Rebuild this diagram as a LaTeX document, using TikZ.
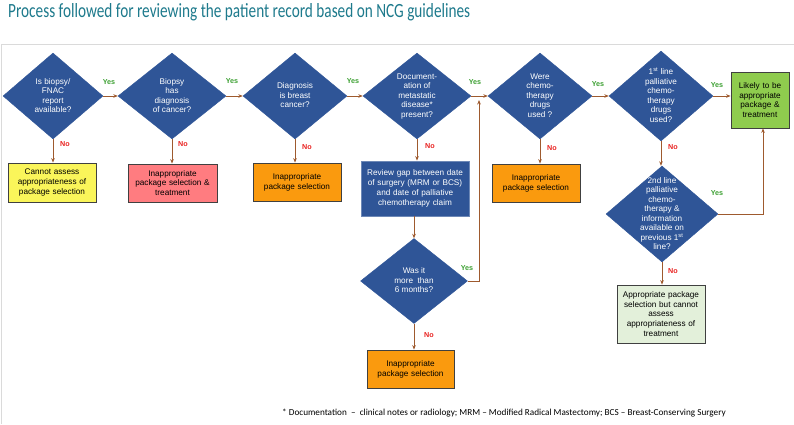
\documentclass[tikz,border=0pt]{standalone}
\usepackage{fontspec}
\setmainfont{Liberation Sans}
\newfontfamily\calibri{Carlito}
\usetikzlibrary{shapes.geometric,arrows.meta}
\definecolor{dblue}{HTML}{2F5597}
\definecolor{titlecol}{HTML}{1E7A8C}
\definecolor{arrcol}{HTML}{9E5A2E}
\definecolor{yescol}{HTML}{3DA033}
\definecolor{nocol}{HTML}{E8201E}
\definecolor{yellowbox}{HTML}{FAF55A}
\definecolor{redbox}{HTML}{FF7C80}
\definecolor{orangebox}{HTML}{FA9A0E}
\definecolor{greenbox}{HTML}{8FCC4E}
\definecolor{palegreen}{HTML}{E3F0DA}
\definecolor{framecol}{HTML}{DADADA}
\newcommand{\dtxt}[1]{\smash{\raisebox{-2.4pt}{\makebox[0pt]{\begin{tabular}{@{}c@{}}#1\end{tabular}}}}}
\begin{document}
\begin{tikzpicture}[x=1pt,y=-1pt,
  dia/.style={diamond, fill=dblue, draw=dblue, inner sep=0pt, text=white,
    font=\fontsize{8.2}{9.5}\selectfont},
  boxn/.style={rectangle, draw=black!75, line width=0.8pt, inner sep=0pt, align=center,
    font=\fontsize{8.2}{9.8}\selectfont},
  arr/.style={draw=arrcol, line width=0.9pt, -{Stealth[length=4.5pt,width=3.6pt]}},
  yes/.style={text=yescol, font=\bfseries\fontsize{7.2}{8}\selectfont, inner sep=0pt},
  no/.style={text=nocol, font=\bfseries\fontsize{7.2}{8}\selectfont, inner sep=0pt}]
\useasboundingbox (0,0) rectangle (794,424);
% frame
\draw[framecol, line width=1.2pt] (794,44.5) -- (1.2,44.5) -- (1.2,424);
% title
\node[anchor=base west, inner sep=0pt, text=titlecol] (title) at (8,17)
  {\resizebox{462pt}{14pt}{\calibri Process followed for reviewing the patient record based on NCG guidelines}};
% diamonds
\node[dia, minimum width=100pt, minimum height=86pt] (d1) at (53,96) {\dtxt{Is biopsy/\\FNAC\\report\\available?}};
\node[dia, minimum width=108pt, minimum height=86pt] (d2) at (172,96) {\dtxt{Biopsy\\has\\diagnosis\\of cancer?}};
\node[dia, minimum width=104pt, minimum height=86pt] (d3) at (295,96) {\dtxt{Diagnosis\\is breast\\cancer?}};
\node[dia, minimum width=108pt, minimum height=86pt] (d4) at (417,96) {\dtxt{Document-\\ation of\\metastatic\\disease*\\present?}};
\node[dia, minimum width=104pt, minimum height=86pt] (d5) at (540,96) {\dtxt{Were\\chemo-\\therapy\\drugs\\used ?}};
\node[dia, minimum width=104pt, minimum height=90pt] (d6) at (661,96) {\dtxt{1\textsuperscript{st} line\\palliative\\chemo-\\therapy\\drugs\\used?}};
\node[dia, minimum width=112pt, minimum height=96pt] (d7) at (662,214) {\dtxt{2nd line\\palliative\\chemo-\\therapy \&\\information\\available on\\previous 1\textsuperscript{st}\\line?}};
\node[dia, minimum width=107pt, minimum height=85pt] (d8) at (414,281) {\dtxt{Was it\\more \ than\\6 months?}};
% boxes
\node[boxn, fill=yellowbox, minimum width=88pt, minimum height=39pt, text width=86pt] (b1) at (52,182.5) {Cannot assess\\appropriateness of\\package selection};
\node[boxn, fill=redbox, minimum width=89pt, minimum height=38pt, text width=87pt] (b2) at (172.5,183) {Inappropriate\\package selection \&\\treatment};
\node[boxn, fill=orangebox, minimum width=88pt, minimum height=38pt, text width=86pt] (b3) at (297,182) {Inappropriate\\package selection};
\node[boxn, fill=dblue, draw=dblue!70!white, text=white, minimum width=108pt, minimum height=55pt, text width=106pt] (rev) at (415,188.5) {Review gap between date\\of surgery (MRM or BCS)\\and date of palliative\\chemotherapy claim};
\node[boxn, fill=orangebox, minimum width=88pt, minimum height=38pt, text width=86pt] (b5) at (536,183) {Inappropriate\\package selection};
\node[boxn, fill=greenbox, minimum width=58pt, minimum height=56pt, text width=56pt] (g) at (760,100) {Likely to be\\appropriate\\package \&\\treatment};
\node[boxn, fill=palegreen, minimum width=88pt, minimum height=58pt, text width=86pt] (pg) at (661,314) {Appropriate package\\selection but cannot\\assess\\appropriateness of\\treatment};
\node[boxn, fill=orangebox, minimum width=87pt, minimum height=38pt, text width=85pt] (b8) at (410.5,369) {Inappropriate\\package selection};
% connectors
\draw[arr] (d1.east) -- (d2.west);
\draw[arr] (d2.east) -- (d3.west);
\draw[arr] (d3.east) -- (d4.west);
\draw[arr] (d4.east) -- (d5.west);
\draw[arr] (d5.east) -- (d6.west);
\draw[arr] (d6.east) -- (g.west |- d6.east);
\draw[arr] (d1.south) -- (b1.north -| d1.south);
\draw[arr] (d2.south) -- (b2.north -| d2.south);
\draw[arr] (d3.south) -- (b3.north -| d3.south);
\draw[arr] (d4.south) -- (rev.north -| d4.south);
\draw[arr] (d5.south) -- (b5.north -| d5.south);
\draw[arr] (d6.south) -- (d7.north -| d6.south);
\draw[arr] (rev.south -| d8.north) -- (d8.north);
\draw[arr] (d8.south) -- (b8.north -| d8.south);
\draw[arr] (d7.south) -- (pg.north -| d7.south);
\coordinate (j) at (479,100);
\draw[arr] (d8.east) -| (j);
\coordinate (gb) at (763,128);
\draw[arr] (d7.east) -| (g.south -| gb);
% labels
\node[yes] (y1) at (109,82) {Yes};
\node[yes] (y2) at (232,81) {Yes};
\node[yes] (y3) at (353,81) {Yes};
\node[yes] (y4) at (475,82) {Yes};
\node[yes] (y5) at (598,84) {Yes};
\node[yes] (y6) at (717,85) {Yes};
\node[yes] (y7) at (717,193) {Yes};
\node[yes] (y8) at (467,268) {Yes};
\node[no] (n1) at (65,144) {No};
\node[no] (n2) at (183,144) {No};
\node[no] (n3) at (307,147) {No};
\node[no] (n4) at (430,146) {No};
\node[no] (n5) at (552,148) {No};
\node[no] (n6) at (673,147) {No};
\node[no] (n7) at (673,271) {No};
\node[no] (n8) at (429,335) {No};
% footnote
\node[anchor=base west, inner sep=0pt] (foot) at (282,415)
  {\calibri\fontsize{9.2}{11}\selectfont * Documentation \ – \ clinical notes or radiology; MRM – Modified Radical Mastectomy; BCS – Breast-Conserving Surgery};
\end{tikzpicture}
\end{document}
